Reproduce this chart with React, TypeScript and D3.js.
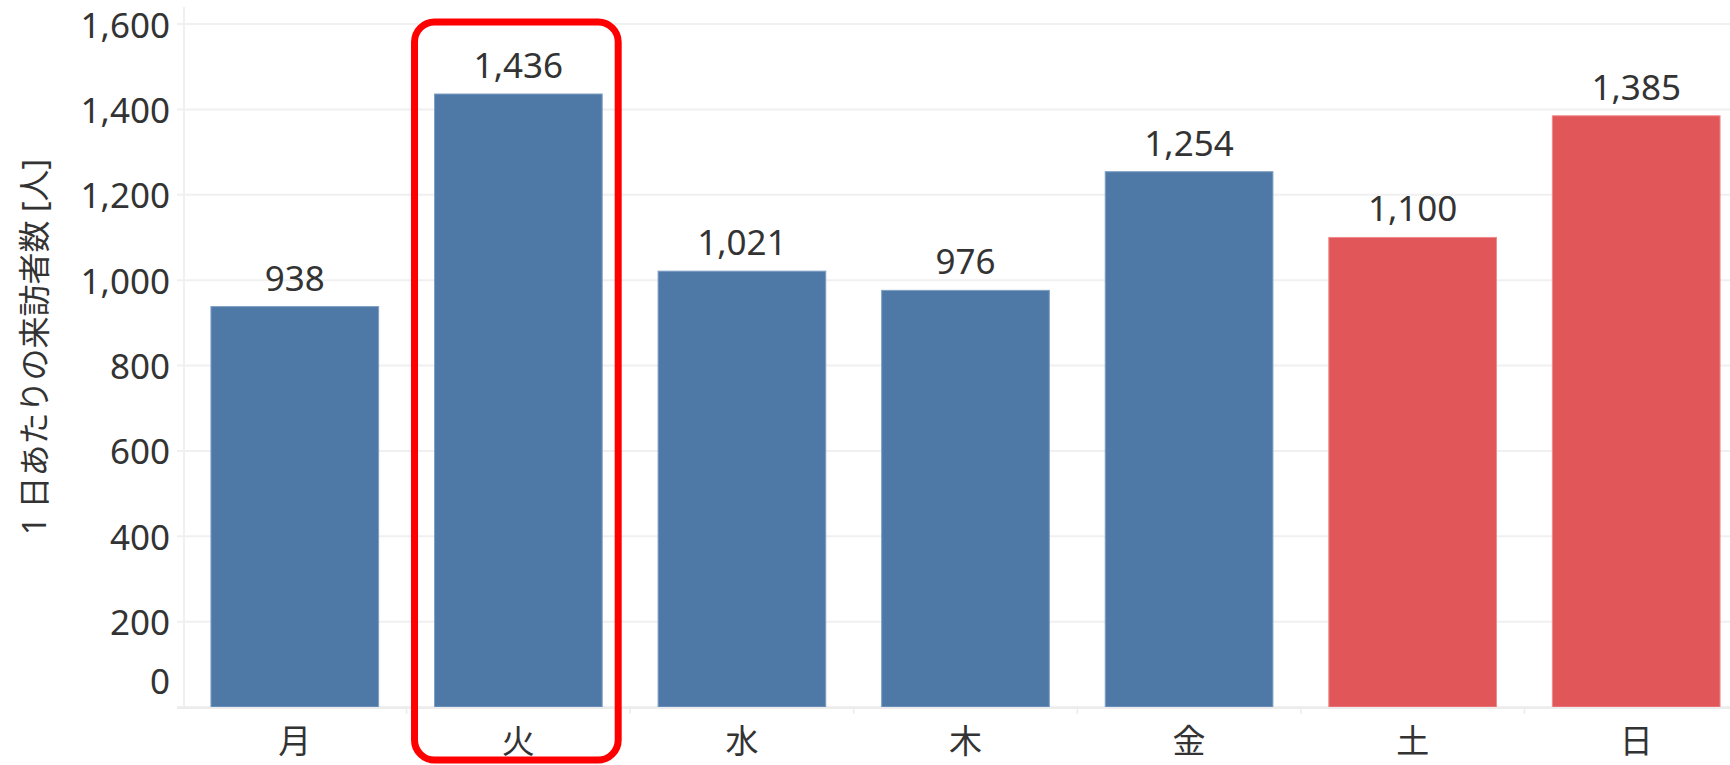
import React, { useEffect, useRef } from 'react';
import * as d3 from 'd3';

const days = ['月', '火', '水', '木', '金', '土', '日'];
const visitors = [938, 1436, 1021, 976, 1254, 1100, 1385];
const weekend = ['土', '日'];
const highlighted = '火';
const yTicks = [0, 200, 400, 600, 800, 1000, 1200, 1400, 1600];
const yTitle = '1 日あたりの来訪者数 [人]';

const WIDTH = 1730;
const HEIGHT = 765;
const BLUE = '#4e79a7';
const RED = '#e15759';
const TEXT = '#333333';
const FONT = '"Noto Sans", "Noto Sans CJK JP", sans-serif';

export default function App() {
  const svgRef = useRef<SVGSVGElement>(null);

  useEffect(() => {
    if (!svgRef.current) return;
    const svg = d3.select(svgRef.current);
    svg.selectAll('*').remove();

    const left = 183;
    const baseline = 707;

    const x = d3.scaleBand<string>()
      .domain(days)
      .range([left, 1748])
      .paddingInner(0.25)
      .paddingOuter(0.125);

    const y = d3.scaleLinear()
      .domain([0, 1600])
      .range([baseline, 24]);

    // グリッド線
    svg.append('g')
      .selectAll('line')
      .data(yTicks)
      .enter()
      .append('line')
      .attr('x1', left - 6)
      .attr('x2', WIDTH)
      .attr('y1', d => y(d))
      .attr('y2', d => y(d))
      .attr('stroke', '#f0f0f0')
      .attr('stroke-width', 2);

    // 左の縦線
    svg.append('line')
      .attr('x1', left + 1)
      .attr('x2', left + 1)
      .attr('y1', 7)
      .attr('y2', baseline + 2)
      .attr('stroke', '#f0f0f0')
      .attr('stroke-width', 2);

    // 棒
    const data = days.map((d, i) => ({ day: d, value: visitors[i] }));
    svg.append('g')
      .selectAll('rect')
      .data(data)
      .enter()
      .append('rect')
      .attr('x', d => x(d.day)!)
      .attr('y', d => y(d.value))
      .attr('width', x.bandwidth())
      .attr('height', d => baseline - y(d.value))
      .attr('fill', d => (weekend.includes(d.day) ? RED : BLUE))
      .attr('stroke', d => (weekend.includes(d.day) ? '#f08a8c' : '#7f9fc4'))
      .attr('stroke-width', 1);

    // 値ラベル
    svg.append('g')
      .selectAll('text')
      .data(data)
      .enter()
      .append('text')
      .attr('x', d => x(d.day)! + x.bandwidth() / 2)
      .attr('y', d => y(d.value) - 16)
      .attr('text-anchor', 'middle')
      .style('font-family', FONT)
      .style('font-size', '35px')
      .style('fill', TEXT)
      .text(d => d3.format(',')(d.value));

    // X軸の線と区切り
    svg.append('line')
      .attr('x1', left - 6)
      .attr('x2', WIDTH)
      .attr('y1', baseline + 1)
      .attr('y2', baseline + 1)
      .attr('stroke', '#ececec')
      .attr('stroke-width', 2);

    svg.append('g')
      .selectAll('line')
      .data(days.slice(1))
      .enter()
      .append('line')
      .attr('x1', d => x(d)! - (x.step() - x.bandwidth()) / 2)
      .attr('x2', d => x(d)! - (x.step() - x.bandwidth()) / 2)
      .attr('y1', baseline + 1)
      .attr('y2', baseline + 7)
      .attr('stroke', '#ececec')
      .attr('stroke-width', 1.5);

    // X軸ラベル
    svg.append('g')
      .selectAll('text')
      .data(days)
      .enter()
      .append('text')
      .attr('x', d => x(d)! + x.bandwidth() / 2)
      .attr('y', 740)
      .attr('text-anchor', 'middle')
      .attr('dominant-baseline', 'central')
      .style('font-family', FONT)
      .style('font-size', '33px')
      .style('fill', TEXT)
      .text(d => d);

    // Y軸ラベル
    svg.append('g')
      .selectAll('text')
      .data(yTicks)
      .enter()
      .append('text')
      .attr('x', 170)
      .attr('y', d => (d === 0 ? y(d) - 27 : y(d)))
      .attr('text-anchor', 'end')
      .attr('dominant-baseline', 'central')
      .style('font-family', FONT)
      .style('font-size', '35px')
      .style('fill', TEXT)
      .text(d => d3.format(',')(d));

    // Y軸タイトル
    svg.append('text')
      .attr('transform', 'translate(33,347) rotate(-90)')
      .attr('text-anchor', 'middle')
      .attr('dominant-baseline', 'central')
      .style('font-family', FONT)
      .style('font-size', '32px')
      .style('fill', TEXT)
      .text(yTitle);

    // 火曜日の強調枠
    const hx = x(highlighted)!;
    svg.append('rect')
      .attr('x', hx - 20)
      .attr('y', 22)
      .attr('width', x.bandwidth() + 36)
      .attr('height', 738)
      .attr('rx', 20)
      .attr('fill', 'none')
      .attr('stroke', '#ff0000')
      .attr('stroke-width', 7);
  }, []);

  return (
    <svg
      ref={svgRef}
      width={WIDTH}
      height={HEIGHT}
      style={{ position: 'absolute', left: 0, top: 0, background: '#ffffff' }}
    />
  );
}
